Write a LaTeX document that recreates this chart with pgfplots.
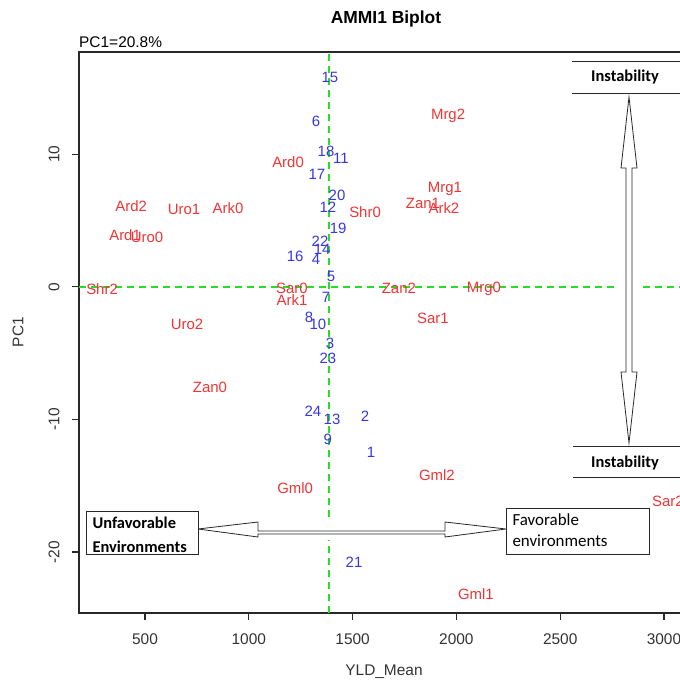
\documentclass[border=0pt]{standalone}
\usepackage{pgfplots}
\pgfplotsset{compat=1.18}
\usepackage{pgfplotstable}
\usepackage{fontspec}
\setmainfont{Liberation Sans}
\newfontfamily\carlito{Carlito}

\definecolor{envred}{RGB}{238,52,52}
\definecolor{genblue}{RGB}{55,55,225}
\definecolor{refline}{RGB}{40,220,40}
\definecolor{boxline}{RGB}{40,40,40}

% genotypes (blue numbers)
\pgfplotstableread{
x y name
1589 -12.5 1
1560 -9.8 2
1391 -4.3 3
1324 2.1 4
1396 0.8 5
1324 12.5 6
1372 -0.8 7
1290 -2.3 8
1381 -11.5 9
1333 -2.8 10
1444 9.7 11
1381 6.0 12
1401 -10.0 13
1353 2.8 14
1391 15.8 15
1223 2.3 16
1328 8.5 17
1372 10.2 18
1430 4.4 19
1425 6.9 20
1507 -20.8 21
1343 3.4 22
1381 -5.4 23
1309 -9.4 24
}\genotypes

% environments (red)
\pgfplotstableread{
x y name
1189 9.4 Ard0
404 3.9 Ard1
433 6.1 Ard2
900 5.9 Ark0
1208 -1.0 Ark1
1940 5.9 Ark2
1223 -15.2 Gml0
2094 -23.2 Gml1
1906 -14.2 Gml2
2133 -0.15 Mrg0
1945 7.4 Mrg1
1960 12.9 Mrg2
1208 -0.1 Sar0
1887 -2.4 Sar1
3019 -16.2 Sar2
1560 5.6 Shr0
293 -0.2 Shr2
510 3.7 Uro0
688 5.8 Uro1
702 -2.8 Uro2
813 -7.6 Zan0
1839 6.3 Zan1
1723 -0.1 Zan2
}\environments

\begin{document}
\begin{tikzpicture}
\begin{axis}[
  scale only axis, width=613bp, height=561bp,
  xmin=182, xmax=3135, ymin=-24.6, ymax=17.7,
  xtick={500,1000,1500,2000,2500,3000},
  ytick={-20,-10,0,10},
  tick pos=left, tick align=outside, major tick length=7bp,
  every tick/.style={boxline, line width=1.1bp},
  axis line style={boxline, line width=1.2bp},
  ticklabel style={font=\fontsize{15.5}{17}\selectfont, text=black!80},
  /pgf/number format/assume math mode=true,
  /pgf/number format/1000 sep={},
  xticklabel style={yshift=-10bp},
  yticklabel style={xshift=-9bp, rotate=90, anchor=south},
  clip=false,
]
  \addplot[refline, line width=1.6bp, dash pattern=on 7bp off 5bp]
    coordinates {(1386,-24.6) (1386,17.7)};
  \addplot[refline, line width=1.6bp, dash pattern=on 7bp off 5bp]
    coordinates {(182,0) (3135,0)};
  \addplot[draw=none, mark=none, nodes near coords, point meta=explicit symbolic,
    every node near coord/.append style={anchor=center, inner sep=0pt,
      text=genblue, font=\fontsize{15}{15}\selectfont}]
    table[x=x, y=y, meta=name] {\genotypes};
  \addplot[draw=none, mark=none, nodes near coords, point meta=explicit symbolic,
    every node near coord/.append style={anchor=center, inner sep=0pt,
      text=envred, font=\fontsize{15}{15}\selectfont}]
    table[x=x, y=y, meta=name] {\environments};
  \coordinate (O) at (rel axis cs:0,0);
\end{axis}
\path ([xshift=-79bp,yshift=613bp]O) coordinate (P0);
\begin{scope}[shift={(P0)}, x=1bp, y=-1bp]
  \node[font=\bfseries\fontsize{17.5}{18}\selectfont] at (386,19) {AMMI1 Biplot};
  \node[anchor=west, inner sep=0pt, font=\fontsize{15.5}{16}\selectfont] at (79,42) {PC1=20.8\%};
  \node[font=\fontsize{15.5}{16}\selectfont, text=black!80] at (384,672) {YLD\_Mean};
  \node[rotate=90, font=\fontsize{15.5}{16}\selectfont, text=black!80] at (18,332) {PC1};

  % vertical double arrow and instability labels
  \fill[white] (617,95) rectangle (641,446);
  \draw[boxline, line width=0.8bp, fill=white]
    (629,97) -- (637,168) -- (632,168) -- (632,372) -- (637,372) -- (629,443)
    -- (621,372) -- (626,372) -- (626,168) -- (621,168) -- cycle;
  \draw[boxline, line width=1bp] (572,62) -- (690,62) (572,94) -- (690,94);
  \node[font=\carlito\bfseries\fontsize{16.5}{17}\selectfont] at (625,77) {Instability};
  \draw[boxline, line width=1bp] (573,447) -- (690,447) (573,478) -- (690,478);
  \node[font=\carlito\bfseries\fontsize{16.5}{17}\selectfont] at (625,463) {Instability};

  % horizontal double arrow and environment boxes
  \fill[white] (200,518) rectangle (504,540);
  \draw[boxline, line width=0.8bp, fill=white]
    (198,529) -- (258,522) -- (258,531) -- (445,531) -- (445,522) -- (506,529)
    -- (445,537) -- (445,534) -- (258,534) -- (258,537) -- cycle;
  \draw[boxline, line width=1bp, fill=white] (86,512) rectangle (198,555);
  \node[anchor=west, font=\carlito\bfseries\fontsize{16.5}{17}\selectfont] at (89,523) {Unfavorable};
  \node[anchor=west, font=\carlito\bfseries\fontsize{16.5}{17}\selectfont] at (89,547) {Environments};
  \draw[boxline, line width=1bp, fill=white] (506,509) rectangle (649,555);
  \node[anchor=west, font=\carlito\fontsize{17}{18}\selectfont] at (509,520) {Favorable};
  \node[anchor=west, font=\carlito\fontsize{17}{18}\selectfont] at (509,541) {environments};

  \pgfresetboundingbox
  \path[use as bounding box] (0,0) rectangle (680,682);
\end{scope}
\end{tikzpicture}
\end{document}
